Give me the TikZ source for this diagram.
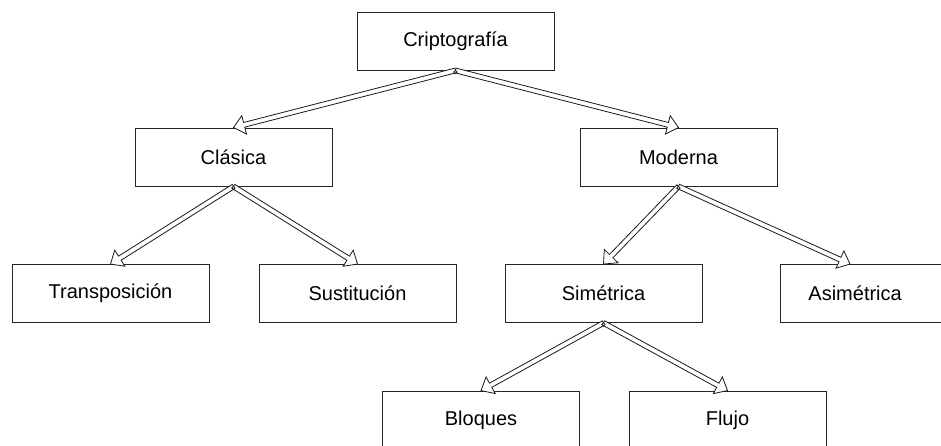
\documentclass[tikz,border=0pt]{standalone}
\usepackage{fontspec}
\setmainfont{Liberation Sans}
\usetikzlibrary{calc}

% hollow block arrow from point #1 to point #2
\newcommand{\blockarrow}[2]{%
  \path (#1) coordinate (ba-s) (#2) coordinate (ba-e);
  \coordinate (ba-b) at ($(ba-e)!11pt!(ba-s)$);
  \draw[conn]
    ($(ba-s)!2.4pt!90:(ba-e)$) -- ($(ba-b)!2.4pt!-90:(ba-s)$)
    -- ($(ba-b)!9.5pt!-90:(ba-s)$) -- (ba-e)
    -- ($(ba-b)!9.5pt!90:(ba-s)$) -- ($(ba-b)!2.4pt!90:(ba-s)$)
    -- ($(ba-s)!2.4pt!-90:(ba-e)$) -- cycle;
  \draw[conn] ($(ba-s)+(0,-1.5pt)$) circle (1.6pt);
}

\begin{document}
\begin{tikzpicture}[x=1pt,y=-1pt,
  box/.style={draw=black!85, line width=0.9pt, fill=white,
    minimum width=197pt, minimum height=58pt, inner sep=0pt,
    font=\fontsize{20}{24}\selectfont},
  conn/.style={draw=black!90, line width=0.8pt, fill=white, line join=miter}]
  \useasboundingbox (0,0) rectangle (941,445);
  \clip (0,0) rectangle (941,445);

  % category boxes
  \node[box] (cripto)  at (455.5,41)   {Criptografía};
  \node[box] (clasica) at (233.5,157)  {Clásica};
  \node[box] (moderna) at (678.5,157)  {Moderna};
  \node[box] (transp)  at (110.5,293.5) {Transposición};
  \node[box] (sustit)  at (357.5,293.5) {Sustitución};
  \node[box] (simetr)  at (603.5,293.5) {Simétrica};
  \node[box, anchor=west, text width=197pt, align=left] (asim) at (780,293.5)
    {\hspace*{28pt}Asimétrica};
  \node[box] (bloques) at (481,420)    {Bloques};
  \node[box] (flujo)   at (727.5,420)  {Flujo};

  % hierarchy arrows
  \blockarrow{cripto.south}{clasica.north}
  \blockarrow{cripto.south}{moderna.north}
  \blockarrow{clasica.south}{transp.north}
  \blockarrow{clasica.south}{sustit.north}
  \blockarrow{moderna.south}{simetr.north}
  \coordinate (asimtip) at ($(asim.north west)+(70pt,0)$);
  \blockarrow{moderna.south}{asimtip}
  \blockarrow{simetr.south}{bloques.north}
  \blockarrow{simetr.south}{flujo.north}
\end{tikzpicture}
\end{document}
